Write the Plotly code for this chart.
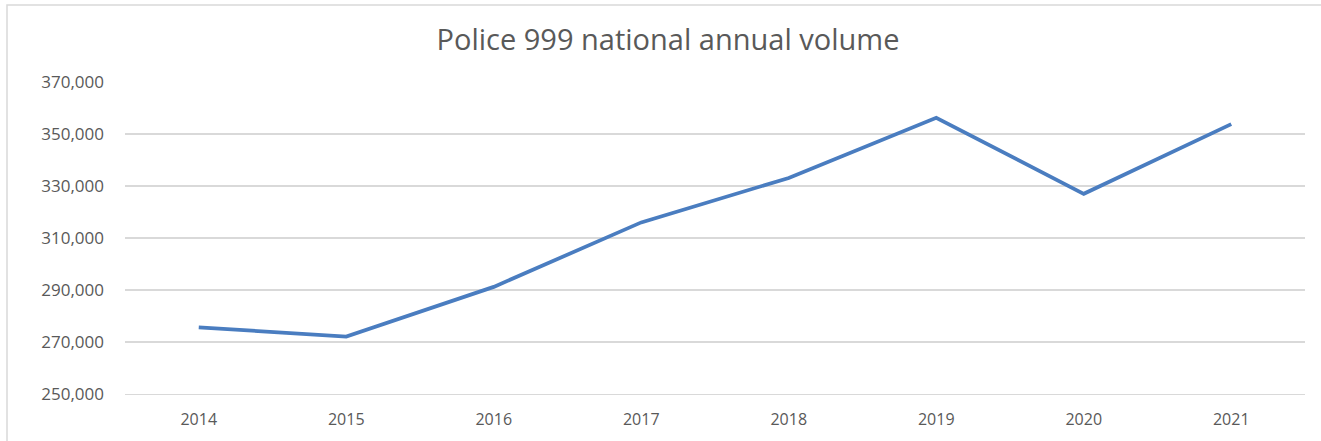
import plotly.graph_objects as go

years = ["2014", "2015", "2016", "2017", "2018", "2019", "2020", "2021"]
volume = [275600, 272100, 291200, 316000, 333100, 356200, 327000, 353800]
y_ticks = [250000, 270000, 290000, 310000, 330000, 350000, 370000]
y_tick_labels = ["250,000", "270,000", "290,000", "310,000", "330,000", "350,000", "370,000"]
title_text = "Police 999 national annual volume"

W, H = 1321, 441
L, R, T, B = 125, 16, 82, 47
pw, ph = W - L - R, H - T - B

fig = go.Figure()
fig.add_trace(go.Scatter(
    x=years, y=volume, mode="lines",
    line=dict(color="#4a7dc0", width=3.75),
    hoverinfo="x+y", showlegend=False,
))

fig.update_layout(
    width=W, height=H,
    margin=dict(l=L, r=R, t=T, b=B),
    paper_bgcolor="white", plot_bgcolor="white",
    title=dict(text=title_text, x=(668 - L) / pw, xref="paper", xanchor="center",
               y=1 - 40 / H, yanchor="middle", yref="container",
               font=dict(family="Open Sans", size=29, color="#595959")),
    font=dict(family="Open Sans", color="#595959"),
    xaxis=dict(type="category", range=[-0.5, 7.5], showgrid=False,
               showline=True, linecolor="#d9d9d9", linewidth=1.3,
               zeroline=False, ticks="", tickfont=dict(size=16, color="#595959"),
               ticklabelstandoff=10),
    yaxis=dict(range=[250000, 370000], tickvals=y_ticks, ticktext=y_tick_labels,
               showgrid=True, gridcolor="#d9d9d9", gridwidth=1.3, zeroline=False,
               showline=False, ticks="", tickfont=dict(size=17, color="#595959"),
               ticklabelstandoff=20),
)

# light outer chart border (left and top edges), drawn as a path in paper space
x0 = (7 - L) / pw
y1 = 1 + (T - 5) / ph
xr = (W + 20 - L) / pw
yb = -(B + 20) / ph
fig.add_shape(type="rect", xref="paper", yref="paper", x0=x0, x1=xr, y0=yb, y1=y1,
              line=dict(color="#d9d9d9", width=1.5), fillcolor="rgba(0,0,0,0)",
              layer="below")

fig.write_html("out.html",
               config={"displayModeBar": False, "staticPlot": True},
               post_script="document.body.style.margin='0';document.body.style.overflow='hidden';")
